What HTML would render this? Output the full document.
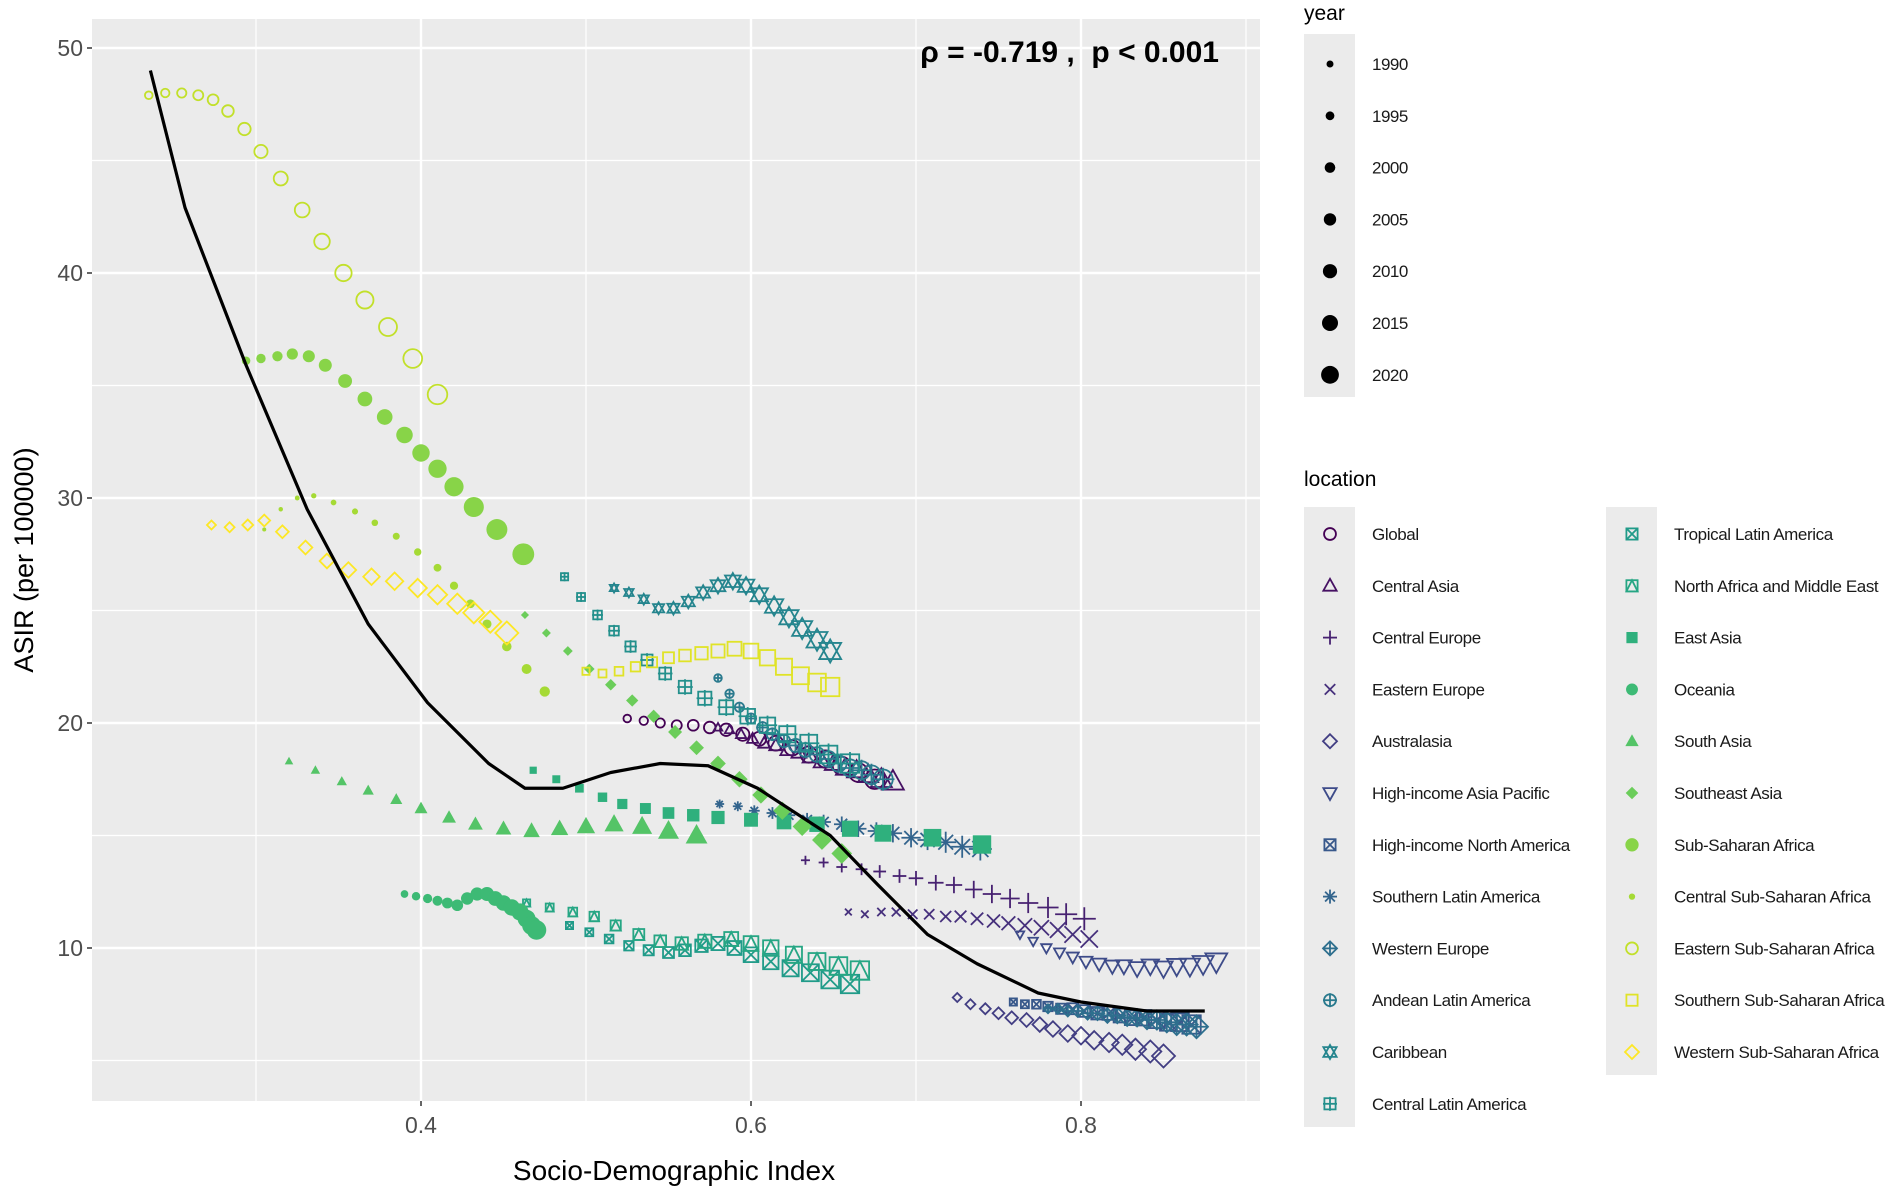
<!DOCTYPE html>
<html><head><meta charset="utf-8"><style>
html,body{margin:0;padding:0;background:#fff;}
svg{display:block;font-family:"Liberation Sans",sans-serif;}
</style></head><body>
<svg id="chart" width="1902" height="1193" viewBox="0 0 1902 1193" xmlns="http://www.w3.org/2000/svg">
<rect x="92" y="19" width="1168" height="1082" fill="#ebebeb"/>
<g id="grid"></g><g id="marks"></g><g id="axes"></g><g id="legend"></g>
<text x="1219" y="62" text-anchor="end" font-size="30" font-weight="bold" fill="#000" style="white-space:pre">ρ = -0.719 ,  p &lt; 0.001</text>
<text transform="translate(33,560) rotate(-90)" text-anchor="middle" font-size="27" fill="#000">ASIR (per 100000)</text>
<text x="674" y="1180" text-anchor="middle" font-size="28" fill="#000">Socio-Demographic Index</text>
</svg>
<script>
const years=[1990,1992,1994,1996,1998,2000,2002,2004,2006,2008,2010,2012,2014,2016,2018,2020];
const locations=["Global","Central Asia","Central Europe","Eastern Europe","Australasia","High-income Asia Pacific","High-income North America","Southern Latin America","Western Europe","Andean Latin America","Caribbean","Central Latin America","Tropical Latin America","North Africa and Middle East","East Asia","Oceania","South Asia","Southeast Asia","Sub-Saharan Africa","Central Sub-Saharan Africa","Eastern Sub-Saharan Africa","Southern Sub-Saharan Africa","Western Sub-Saharan Africa"];
const sdiGlobal=[0.525,0.535,0.545,0.555,0.565,0.575,0.585,0.595,0.605,0.615,0.625,0.635,0.645,0.655,0.665,0.675];
const asirGlobal=[20.2,20.1,20.0,19.9,19.9,19.8,19.7,19.5,19.3,19.1,18.9,18.6,18.4,18.1,17.8,17.5];
const sdiCentralAsia=[0.58,0.587,0.594,0.601,0.608,0.615,0.622,0.629,0.636,0.643,0.65,0.657,0.664,0.671,0.679,0.686];
const asirCentralAsia=[19.8,19.7,19.5,19.3,19.1,19.0,18.8,18.7,18.5,18.3,18.2,18.0,17.9,17.7,17.5,17.4];
const sdiCentralEurope=[0.633,0.644,0.655,0.667,0.678,0.69,0.70,0.712,0.723,0.735,0.746,0.757,0.768,0.78,0.791,0.802];
const asirCentralEurope=[13.9,13.8,13.6,13.5,13.4,13.2,13.1,12.9,12.8,12.6,12.4,12.2,12.0,11.8,11.5,11.3];
const sdiEasternEurope=[0.659,0.669,0.679,0.688,0.698,0.708,0.718,0.727,0.737,0.747,0.756,0.766,0.776,0.786,0.795,0.805];
const asirEasternEurope=[11.6,11.5,11.6,11.6,11.5,11.5,11.4,11.4,11.3,11.2,11.1,11.0,10.9,10.8,10.6,10.4];
const sdiAustralasia=[0.725,0.733,0.742,0.75,0.758,0.767,0.775,0.783,0.792,0.80,0.808,0.817,0.825,0.833,0.842,0.85];
const asirAustralasia=[7.8,7.5,7.3,7.1,6.9,6.8,6.6,6.4,6.2,6.1,5.9,5.8,5.7,5.5,5.4,5.2];
const sdiHIAsiaPacific=[0.763,0.771,0.779,0.787,0.795,0.803,0.811,0.819,0.826,0.834,0.842,0.85,0.858,0.866,0.874,0.882];
const asirHIAsiaPacific=[10.6,10.3,10.0,9.8,9.6,9.4,9.3,9.2,9.2,9.1,9.2,9.1,9.2,9.2,9.3,9.4];
const sdiHINorthAmerica=[0.759,0.766,0.773,0.78,0.788,0.795,0.802,0.81,0.817,0.824,0.831,0.838,0.846,0.853,0.86,0.867];
const asirHINorthAmerica=[7.6,7.5,7.5,7.4,7.3,7.3,7.2,7.1,7.1,7.0,6.9,6.9,6.8,6.7,6.7,6.6];
const sdiSouthernLatAm=[0.581,0.592,0.602,0.613,0.623,0.634,0.644,0.655,0.665,0.676,0.686,0.697,0.707,0.718,0.728,0.739];
const asirSouthernLatAm=[16.4,16.3,16.1,16.0,15.9,15.7,15.6,15.5,15.3,15.2,15.1,14.9,14.8,14.7,14.5,14.4];
const sdiWesternEurope=[0.78,0.786,0.792,0.798,0.804,0.81,0.816,0.822,0.828,0.834,0.84,0.846,0.852,0.858,0.864,0.87];
const asirWesternEurope=[7.3,7.3,7.2,7.2,7.1,7.1,7.0,7.0,6.9,6.9,6.8,6.8,6.7,6.6,6.6,6.5];
const sdiAndeanLatAm=[0.58,0.587,0.593,0.60,0.607,0.613,0.62,0.627,0.633,0.64,0.647,0.653,0.66,0.667,0.673,0.68];
const asirAndeanLatAm=[22.0,21.3,20.7,20.2,19.8,19.5,19.2,19.0,18.8,18.6,18.4,18.2,18.0,17.9,17.7,17.5];
const sdiCaribbean=[0.517,0.526,0.535,0.544,0.553,0.562,0.571,0.58,0.589,0.597,0.605,0.614,0.623,0.631,0.64,0.648];
const asirCaribbean=[26.0,25.8,25.5,25.1,25.1,25.4,25.8,26.1,26.3,26.1,25.7,25.2,24.7,24.2,23.7,23.2];
const sdiCentralLatAm=[0.487,0.497,0.507,0.517,0.527,0.537,0.548,0.56,0.572,0.585,0.598,0.61,0.622,0.635,0.647,0.66];
const asirCentralLatAm=[26.5,25.6,24.8,24.1,23.4,22.8,22.2,21.6,21.1,20.7,20.3,19.9,19.5,19.1,18.6,18.2];
const sdiTropicalLatAm=[0.49,0.502,0.514,0.526,0.538,0.55,0.56,0.57,0.58,0.59,0.60,0.612,0.624,0.636,0.648,0.66];
const asirTropicalLatAm=[11.0,10.7,10.4,10.1,9.9,9.8,9.9,10.1,10.2,10.0,9.7,9.4,9.1,8.9,8.6,8.4];
const sdiNAfricaME=[0.464,0.478,0.492,0.505,0.518,0.532,0.545,0.558,0.572,0.588,0.60,0.612,0.626,0.64,0.653,0.666];
const asirNAfricaME=[12.0,11.8,11.6,11.4,11.0,10.6,10.3,10.2,10.3,10.4,10.2,10.0,9.7,9.4,9.2,9.0];
const sdiEastAsia=[0.468,0.482,0.496,0.51,0.522,0.536,0.55,0.565,0.58,0.60,0.62,0.64,0.66,0.68,0.71,0.74];
const asirEastAsia=[17.9,17.5,17.1,16.7,16.4,16.2,16.0,15.9,15.8,15.7,15.6,15.5,15.3,15.1,14.9,14.6];
const sdiOceania=[0.39,0.397,0.404,0.41,0.416,0.422,0.428,0.434,0.44,0.445,0.45,0.455,0.46,0.464,0.467,0.47];
const asirOceania=[12.4,12.3,12.2,12.1,12.0,11.9,12.2,12.4,12.4,12.2,12.0,11.8,11.6,11.3,11.0,10.8];
const sdiSouthAsia=[0.32,0.336,0.352,0.368,0.385,0.40,0.417,0.433,0.45,0.467,0.484,0.50,0.517,0.534,0.55,0.567];
const asirSouthAsia=[18.3,17.9,17.4,17.0,16.6,16.2,15.8,15.5,15.3,15.2,15.3,15.4,15.5,15.4,15.2,15.0];
const sdiSoutheastAsia=[0.463,0.476,0.489,0.502,0.515,0.528,0.541,0.554,0.567,0.58,0.593,0.606,0.619,0.631,0.643,0.655];
const asirSoutheastAsia=[24.8,24.0,23.2,22.4,21.7,21.0,20.3,19.6,18.9,18.2,17.5,16.8,16.1,15.4,14.8,14.2];
const sdiSSA=[0.294,0.303,0.313,0.322,0.332,0.342,0.354,0.366,0.378,0.39,0.40,0.41,0.42,0.432,0.446,0.462];
const asirSSA=[36.1,36.2,36.3,36.4,36.3,35.9,35.2,34.4,33.6,32.8,32.0,31.3,30.5,29.6,28.6,27.5];
const sdiCentralSSA=[0.305,0.315,0.325,0.335,0.347,0.36,0.372,0.385,0.398,0.41,0.42,0.43,0.44,0.452,0.464,0.475];
const asirCentralSSA=[28.6,29.5,30.0,30.1,29.8,29.4,28.9,28.3,27.6,26.9,26.1,25.3,24.4,23.4,22.4,21.4];
const sdiEasternSSA=[0.235,0.245,0.255,0.265,0.274,0.283,0.293,0.303,0.315,0.328,0.34,0.353,0.366,0.38,0.395,0.41];
const asirEasternSSA=[47.9,48.0,48.0,47.9,47.7,47.2,46.4,45.4,44.2,42.8,41.4,40.0,38.8,37.6,36.2,34.6];
const sdiSouthernSSA=[0.50,0.51,0.52,0.53,0.54,0.55,0.56,0.57,0.58,0.59,0.60,0.61,0.62,0.63,0.64,0.648];
const asirSouthernSSA=[22.3,22.2,22.3,22.5,22.7,22.9,23.0,23.1,23.2,23.3,23.2,22.9,22.5,22.1,21.8,21.6];
const sdiWesternSSA=[0.273,0.284,0.295,0.305,0.316,0.33,0.343,0.356,0.37,0.384,0.398,0.41,0.422,0.432,0.442,0.452];
const asirWesternSSA=[28.8,28.7,28.8,29.0,28.5,27.8,27.2,26.8,26.5,26.3,26.0,25.7,25.3,24.9,24.5,24.0];
const sdiSeries=[sdiGlobal,sdiCentralAsia,sdiCentralEurope,sdiEasternEurope,sdiAustralasia,sdiHIAsiaPacific,sdiHINorthAmerica,sdiSouthernLatAm,sdiWesternEurope,sdiAndeanLatAm,sdiCaribbean,sdiCentralLatAm,sdiTropicalLatAm,sdiNAfricaME,sdiEastAsia,sdiOceania,sdiSouthAsia,sdiSoutheastAsia,sdiSSA,sdiCentralSSA,sdiEasternSSA,sdiSouthernSSA,sdiWesternSSA];
const asirSeries=[asirGlobal,asirCentralAsia,asirCentralEurope,asirEasternEurope,asirAustralasia,asirHIAsiaPacific,asirHINorthAmerica,asirSouthernLatAm,asirWesternEurope,asirAndeanLatAm,asirCaribbean,asirCentralLatAm,asirTropicalLatAm,asirNAfricaME,asirEastAsia,asirOceania,asirSouthAsia,asirSoutheastAsia,asirSSA,asirCentralSSA,asirEasternSSA,asirSouthernSSA,asirWesternSSA];
const smoothSdi=[0.236,0.257,0.294,0.331,0.368,0.404,0.441,0.463,0.486,0.515,0.545,0.574,0.604,0.648,0.677,0.707,0.737,0.774,0.80,0.84,0.875];
const smoothAsir=[49.0,42.9,35.9,29.5,24.4,20.9,18.2,17.1,17.1,17.8,18.2,18.1,17.1,15.0,12.8,10.6,9.3,8.0,7.6,7.2,7.2];
const yTicks=[10,20,30,40,50];
const yMinor=[5,15,25,35,45];
const xTicks=[0.4,0.6,0.8];
const xMinor=[0.3,0.5,0.7,0.9];
const legendYears=[1990,1995,2000,2005,2010,2015,2020];

const NS="http://www.w3.org/2000/svg";
const X=v=>421+(v-0.4)*1650;
const Y=v=>948-(v-10)*22.5;
const PL=92,PR=1260,PT=19,PB=1101;
function el(tag,attrs,parent){const e=document.createElementNS(NS,tag);for(const k in attrs)e.setAttribute(k,attrs[k]);parent.appendChild(e);return e;}
const stops=["#440154","#482878","#3e4a89","#31688e","#26828e","#1f9e89","#35b779","#6ece58","#b5de2b","#fde725"];
function hex(c){return [1,3,5].map(i=>parseInt(c.substr(i,2),16));}
function viridis(t){const p=t*(stops.length-1),i=Math.min(Math.floor(p),stops.length-2),f=p-i;const a=hex(stops[i]),b=hex(stops[i+1]);return "rgb("+a.map((v,k)=>Math.round(v+(b[k]-v)*f)).join(",")+")";}
const grid=document.getElementById('grid');
yMinor.forEach(v=>{const l=el('line',{x1:PL,x2:PR,y1:Y(v),y2:Y(v),stroke:'#fff','stroke-width':1.2},grid);});
xMinor.forEach(v=>{const l=el('line',{x1:X(v),x2:X(v),y1:PT,y2:PB,stroke:'#fff','stroke-width':1.2},grid);});
yTicks.forEach(v=>{const l=el('line',{x1:PL,x2:PR,y1:Y(v),y2:Y(v),stroke:'#fff','stroke-width':2.4},grid);});
xTicks.forEach(v=>{const l=el('line',{x1:X(v),x2:X(v),y1:PT,y2:PB,stroke:'#fff','stroke-width':2.4},grid);});
const axes=document.getElementById('axes');
yTicks.forEach(v=>{const t=el('line',{x1:PL-5,x2:PL,y1:Y(v),y2:Y(v),stroke:'#333','stroke-width':1.5},axes);
const s=el('text',{x:PL-9,y:Y(v)+8,'text-anchor':'end','font-size':23,fill:'#4d4d4d'},axes);s.textContent=v;});
xTicks.forEach(v=>{const t=el('line',{x1:X(v),x2:X(v),y1:PB,y2:PB+5,stroke:'#333','stroke-width':1.5},axes);
const s=el('text',{x:X(v),y:PB+32,'text-anchor':'middle','font-size':23,fill:'#4d4d4d'},axes);s.textContent=v.toFixed(1);});

function shape(g,k,cx,cy,r,col,sw){
  sw=sw||1.8;
  const o={fill:'none',stroke:col,'stroke-width':sw};
  const tri=(d)=>`${cx},${cy-d*r} ${cx+r*0.95},${cy+d*r*0.7} ${cx-r*0.95},${cy+d*r*0.7}`;
  const plus=()=>{el('line',{x1:cx-r,x2:cx+r,y1:cy,y2:cy,...o},g);el('line',{x1:cx,x2:cx,y1:cy-r,y2:cy+r,...o},g);};
  const cross=(s)=>{s=s||0.75;el('line',{x1:cx-r*s,x2:cx+r*s,y1:cy-r*s,y2:cy+r*s,...o},g);el('line',{x1:cx-r*s,x2:cx+r*s,y1:cy+r*s,y2:cy-r*s,...o},g);};
  const sq=(f)=>el('rect',{x:cx-r*0.8,y:cy-r*0.8,width:r*1.6,height:r*1.6,...(f?{fill:col}:o)},g);
  const dia=(f,s)=>{s=s||1;el('polygon',{points:`${cx},${cy-r*s} ${cx+r*s},${cy} ${cx},${cy+r*s} ${cx-r*s},${cy}`,...(f?{fill:col}:o)},g);};
  switch(k){
    case 0:case 20:el('circle',{cx,cy,r:r*0.85,...o},g);break;
    case 1:el('polygon',{points:tri(1),...o},g);break;
    case 2:plus();break;
    case 3:cross();break;
    case 4:case 22:dia(false);break;
    case 5:el('polygon',{points:tri(-1),...o},g);break;
    case 6:sq();cross(0.8);break;
    case 7:plus();cross(0.7);break;
    case 8:dia(false);plus();break;
    case 9:el('circle',{cx,cy,r:r*0.85,...o},g);plus();break;
    case 10:el('polygon',{points:tri(1),...o},g);el('polygon',{points:tri(-1),...o},g);break;
    case 11:sq();plus();break;
    case 12:sq();cross(0.8);break;
    case 13:sq();el('polygon',{points:`${cx},${cy-r*0.8} ${cx+r*0.8},${cy+r*0.8} ${cx-r*0.8},${cy+r*0.8}`,...o},g);break;
    case 14:sq(true);break;
    case 15:el('circle',{cx,cy,r:r*0.85,fill:col},g);break;
    case 16:el('polygon',{points:tri(1),fill:col},g);break;
    case 17:dia(true,0.9);break;
    case 18:el('circle',{cx,cy,r:r*0.95,fill:col},g);break;
    case 19:el('circle',{cx,cy,r:r*0.45,fill:col},g);break;
    case 21:sq();break;
  }
}
const marks=document.getElementById('marks');
locations.forEach((loc,i)=>{
  const col=viridis(i/(locations.length-1));
  const g=el('g',{},marks);
  
  
  sdiSeries[i].forEach((s,j)=>{
    const t=(years[j]-1990)/30;
    const r=4.5+t*7;
    const pg=el('g',{},g);
    
    
    shape(pg,i,X(s),Y(asirSeries[i][j]),r,col);
  });
});
const sp=el('polyline',{points:smoothSdi.map((s,i)=>X(s)+','+Y(smoothAsir[i])).join(' '),fill:'none',stroke:'#000','stroke-width':3.2,'stroke-linejoin':'round'},marks);



const lg=document.getElementById('legend');
let tt=el('text',{x:1304,y:20,'font-size':21,fill:'#000'},lg);tt.textContent='year';


el('rect',{x:1304,y:34,width:51,height:363,fill:'#ebebeb'},lg);
legendYears.forEach((yr,i)=>{
  const cy=64+i*51.8;
  const c=el('circle',{cx:1330,cy,r:3.5+i*0.9,fill:'#000'},lg);
  
  
  const t=el('text',{x:1372,y:cy+6,'font-size':17,fill:'#1a1a1a','letter-spacing':'-0.5'},lg);t.textContent=yr;
  
  
});
tt=el('text',{x:1304,y:486,'font-size':21,fill:'#000'},lg);tt.textContent='location';


el('rect',{x:1304,y:507,width:51,height:620,fill:'#ebebeb'},lg);
el('rect',{x:1606,y:507,width:51,height:568,fill:'#ebebeb'},lg);
locations.forEach((loc,i)=>{
  const colIdx=i<12?0:1,row=i<12?i:i-12;
  const kx=colIdx?1632:1330,cy=534+row*51.8;
  const g=el('g',{},lg);
  
  
  shape(g,i,kx,cy,7,viridis(i/(locations.length-1)),1.8);
  const t=el('text',{x:kx+42,y:cy+6,'font-size':17,fill:'#1a1a1a','letter-spacing':'-0.4'},g);t.textContent=loc;
});
</script>
</body></html>
